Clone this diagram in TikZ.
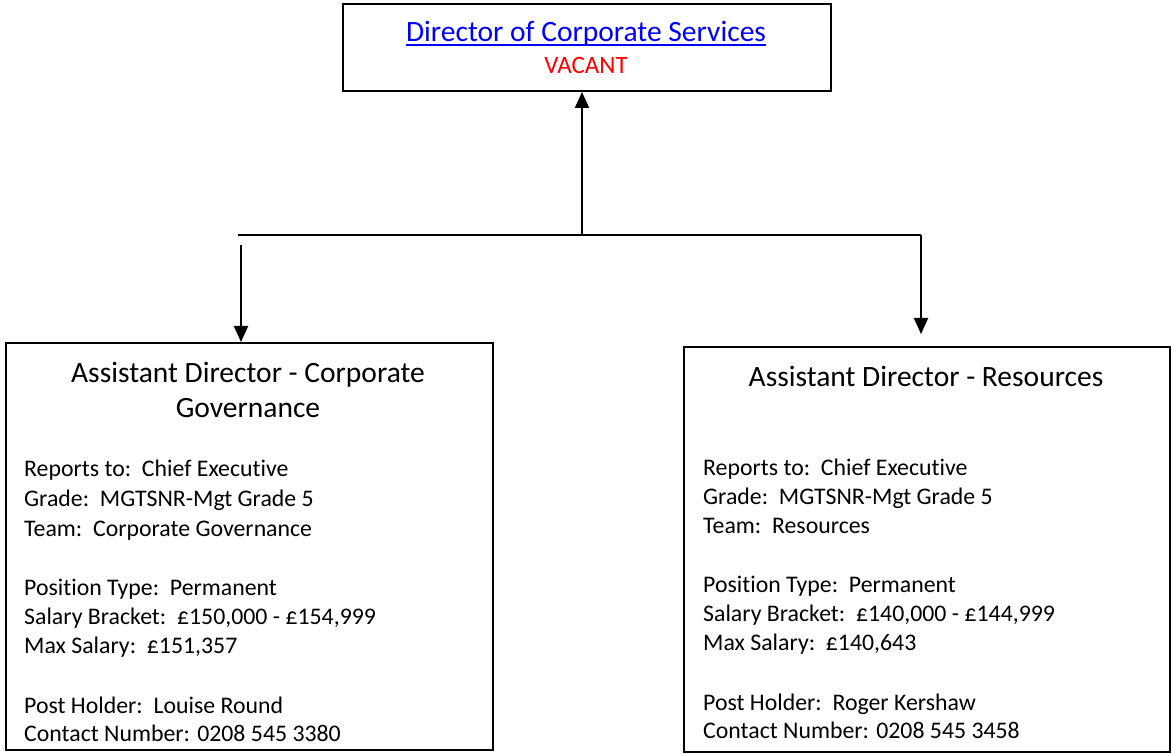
\documentclass[tikz,border=0pt]{standalone}
\usepackage{fontspec}
\setmainfont{Carlito}[Ligatures=NoCommon]
\usetikzlibrary{arrows.meta}
\definecolor{linkblue}{RGB}{0,0,255}
\definecolor{vacred}{RGB}{255,0,0}
\tikzset{
  box/.style={draw=black, line width=2pt, inner sep=0pt, anchor=north west},
  conn/.style={line width=2pt, black},
  arr/.style={conn, -{Triangle[length=16pt,width=14pt]}},
  body/.style={anchor=base west, inner sep=0pt, font=\fontsize{23.8}{28}\selectfont},
  ttl/.style={anchor=base, inner sep=0pt, font=\fontsize{29.5}{35}\selectfont},
}
\begin{document}
\begin{tikzpicture}[x=1pt,y=-1pt]
\useasboundingbox (0,0) rectangle (1171,754);
% boxes
\node[box, minimum width=488pt, minimum height=87pt] (top) at (342,3) {};
\node[box, minimum width=487pt, minimum height=407pt] (L) at (5,342) {};
\node[box, minimum width=486pt, minimum height=405pt] (R) at (683,346) {};
% top texts
\node[ttl, text=linkblue] (ttop) at (586,42) {Director of Corporate Services};
\draw[linkblue, line width=1.6pt] ([yshift=-3pt]ttop.base west) -- ([yshift=-3pt]ttop.base east);
\node[anchor=base, inner sep=0pt, text=vacred, font=\fontsize{25}{30}\selectfont] (vac) at (586,74) {VACANT};
% left texts
\node[ttl] (lt1) at (248,382) {Assistant Director - Corporate};
\node[ttl] (lt2) at (248,417) {Governance};
\node[body] (l1) at (24,476) {Reports to:\ \ Chief Executive};
\node[body] (l2) at (24,506) {Grade:\ \ MGTSNR-Mgt Grade 5};
\node[body] (l3) at (24,536) {Team:\ \ Corporate Governance};
\node[body] (l4) at (24,595) {Position Type:\ \ Permanent};
\node[body] (l5) at (24,624) {Salary Bracket:\ \ £150,000 - £154,999};
\node[body] (l6) at (24,653) {Max Salary:\ \ £151,357};
\node[body] (l7) at (24,713) {Post Holder:\ \ Louise Round};
\node[body] (l8) at (24,741) {Contact Number: 0208 545 3380};
% right texts
\node[ttl] (rt1) at (926,386) {Assistant Director - Resources};
\node[body] (r1) at (703,475) {Reports to:\ \ Chief Executive};
\node[body] (r2) at (703,504) {Grade:\ \ MGTSNR-Mgt Grade 5};
\node[body] (r3) at (703,533) {Team:\ \ Resources};
\node[body] (r4) at (703,592) {Position Type:\ \ Permanent};
\node[body] (r5) at (703,621) {Salary Bracket:\ \ £140,000 - £144,999};
\node[body] (r6) at (703,650) {Max Salary:\ \ £140,643};
\node[body] (r7) at (703,710) {Post Holder:\ \ Roger Kershaw};
\node[body] (r8) at (703,738) {Contact Number: 0208 545 3458};
% connectors
\coordinate (j) at (582,235);
\coordinate (jl) at (238,235);
\coordinate (jr) at (921,235);
\coordinate (la) at (241,245);
\coordinate (re) at (921,334);
\draw[conn] (jl) -- (jr);
\draw[arr] (j) -- (j |- top.south);
\draw[arr] (la) -- (la |- L.north);
\draw[arr] (jr) -- (re);
\end{tikzpicture}
\end{document}
